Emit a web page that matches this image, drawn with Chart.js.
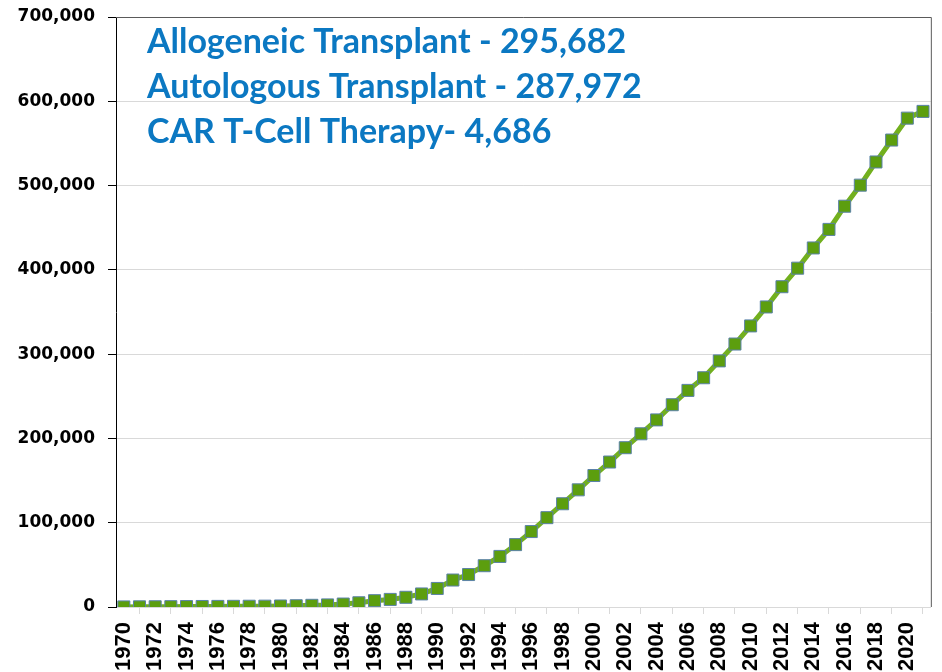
<!DOCTYPE html>
<html>
<head>
<meta charset="utf-8">
<script src="https://cdn.jsdelivr.net/npm/chart.js@4/dist/chart.umd.min.js"></script>
<style>
  body { margin: 0; background: #fff; }
  canvas { display: block; }
</style>
</head>
<body>
<canvas id="myChart" width="942" height="672"></canvas>
<script>
// cumulative transplants per year
var years = [];
for (var y = 1970; y <= 2021; y++) years.push(String(y));

var totals = [
  100, 200, 300, 400, 500, 600, 700, 800, 900, 1000,
  1200, 1500, 2000, 2500, 3500, 5000, 7500, 9000, 11500, 15500,
  22000, 32000, 38500, 49000, 60000, 74000, 89500, 106000, 122500, 139000,
  156000, 172000, 189000, 205500, 222000, 240000, 257000, 272000, 292000, 312000,
  333500, 356000, 380000, 402000, 426000, 448000, 475500, 500500, 528000, 554000,
  580000, 588000
];

var yTicks = [0, 100000, 200000, 300000, 400000, 500000, 600000, 700000];

var notes = [
  'Allogeneic Transplant - 295,682',
  'Autologous Transplant - 287,972',
  'CAR T-Cell Therapy- 4,686'
];

var notesPlugin = {
  id: 'notes',
  afterDraw: function(chart) {
    var ctx = chart.ctx;
    var area = chart.chartArea;
    ctx.save();
    // top and right frame
    ctx.strokeStyle = '#5a5a5a';
    ctx.lineWidth = 1;
    ctx.beginPath();
    ctx.moveTo(area.left, area.top + 0.5);
    ctx.lineTo(area.right + 0.5, area.top + 0.5);
    ctx.lineTo(area.right + 0.5, area.bottom);
    ctx.stroke();

    ctx.fillStyle = '#0b78c2';
    ctx.font = 'bold 34px Lato';
    ctx.textAlign = 'left';
    ctx.textBaseline = 'alphabetic';
    notes.forEach(function(t, i) {
      ctx.fillText(t, area.left + 31, area.top + 36 + i * 45);
    });
    ctx.restore();
  }
};

var ctx = document.getElementById('myChart');
var myChart = new Chart(ctx, {
  type: 'line',
  data: {
    labels: years,
    datasets: [{
      data: totals,
      borderColor: '#72b01e',
      borderWidth: 5,
      pointStyle: 'rect',
      pointRadius: 8.5,
      pointBackgroundColor: '#5c9e0e',
      pointBorderColor: '#5b82a8',
      pointBorderWidth: 1,
      tension: 0
    }]
  },
  options: {
    responsive: false,
    animation: false,
    layout: { padding: { top: 17, right: 9, left: 0, bottom: 0 } },
    plugins: {
      legend: { display: false },
      tooltip: { enabled: false }
    },
    scales: {
      x: {
        offset: true,
        afterFit: function(scale) { scale.height = 65; },
        grid: {
          offset: true,
          drawOnChartArea: false,
          color: '#d9d9d9',
          tickLength: 7
        },
        border: { color: '#d9d9d9', width: 1 },
        ticks: {
          autoSkip: false,
          maxRotation: 90,
          minRotation: 90,
          padding: 8,
          color: '#000',
          font: { family: 'Liberation Sans', size: 22, weight: 'bold' },
          callback: function(v, i) {
            return i % 2 === 0 ? this.getLabelForValue(v) : null;
          }
        }
      },
      y: {
        min: 0,
        max: 700000,
        afterFit: function(scale) {
          scale.width = 116;
          scale.paddingTop = 0;
          scale.paddingBottom = 0;
        },
        afterBuildTicks: function(scale) {
          scale.ticks = yTicks.map(function(v) { return { value: v }; });
        },
        grid: {
          color: '#d9d9d9',
          tickColor: '#000',
          tickLength: 8
        },
        border: { color: '#000', width: 1 },
        ticks: {
          padding: 13,
          color: '#000',
          font: { family: 'DejaVu Sans', size: 17, weight: 'bold' },
          callback: function(v) { return v.toLocaleString('en-US'); }
        }
      }
    }
  },
  plugins: [notesPlugin]
});
</script>
</body>
</html>
